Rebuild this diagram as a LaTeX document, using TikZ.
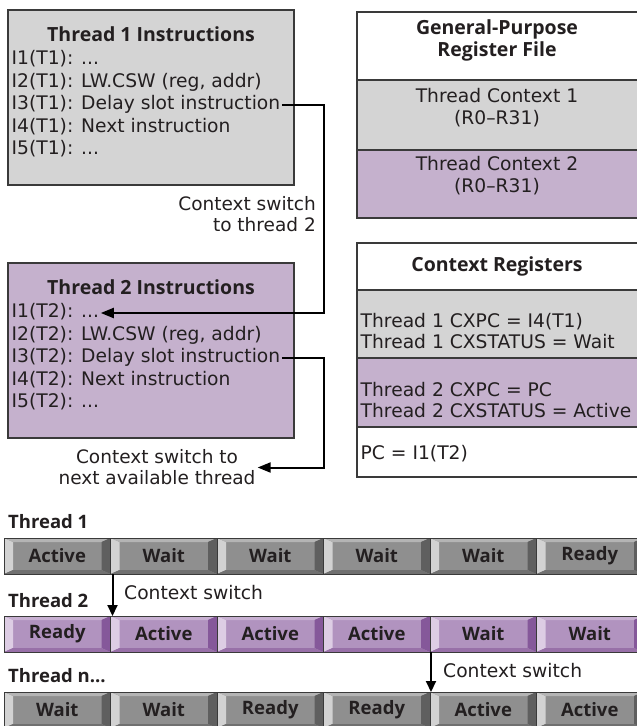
\documentclass[tikz,border=0pt]{standalone}
\usepackage{fontspec}
\setmainfont{DejaVu Sans}
\newfontfamily\bfam{Open Sans}
\usetikzlibrary{arrows.meta,calc}
\definecolor{boxgray}{HTML}{D4D4D4}
\definecolor{boxpurp}{HTML}{C5B1CD}
\definecolor{edge}{HTML}{3A3A3A}
\definecolor{ink}{HTML}{231F20}
\definecolor{gface}{HTML}{8F8F8F}
\definecolor{glft}{HTML}{D2D2D2}
\definecolor{gtop}{HTML}{B4B4B4}
\definecolor{grgt}{HTML}{5F5F5F}
\definecolor{gbot}{HTML}{707070}
\definecolor{pface}{HTML}{B193BF}
\definecolor{plft}{HTML}{DDCDE4}
\definecolor{ptop}{HTML}{C8B0D2}
\definecolor{prgt}{HTML}{85589A}
\definecolor{pbot}{HTML}{9870A8}
\newcommand\bevcell[5]{%
  \node[cellbox,fill=#4face] (#1) at (#2,#3) {};
  \fill[#4lft] (#1.north west) -- (#1.south west) -- ($(#1.south west)+(9,-4)$) -- ($(#1.north west)+(9,4)$) -- cycle;
  \fill[#4top] (#1.north west) -- (#1.north east) -- ($(#1.north east)+(-9,4)$) -- ($(#1.north west)+(9,4)$) -- cycle;
  \fill[#4rgt] (#1.north east) -- (#1.south east) -- ($(#1.south east)+(-9,-4)$) -- ($(#1.north east)+(-9,4)$) -- cycle;
  \fill[#4bot] (#1.south west) -- (#1.south east) -- ($(#1.south east)+(-9,-4)$) -- ($(#1.south west)+(9,-4)$) -- cycle;
  \node[celltext] (#1t) at (#1.center) {#5};
  \draw[edge,line width=1pt] (#1.north west) rectangle (#1.south east);
}
\begin{document}
\begin{tikzpicture}[x=1pt,y=-1pt,font=\fontsize{18.7}{21.5}\selectfont,text=ink,
  box/.style={draw=edge,line width=1.2pt,anchor=north west,inner sep=0pt,outer sep=0pt},
  ln/.style={anchor=west,inner sep=1.5pt,text height=14pt,text depth=4.5pt},
  ctr/.style={inner sep=1pt,text height=14pt,text depth=4.5pt},
  ttl/.style={ctr,font=\fontsize{19.5}{22}\bfam\bfseries},
  conn/.style={draw=black,line width=2pt},
  tip/.style={-{Triangle[length=13pt,width=10pt]}},
  cellbox/.style={anchor=north west,minimum width=106.5pt,minimum height=36pt,inner sep=0pt,outer sep=0pt},
  celltext/.style={font=\fontsize{18.5}{20}\bfam\bfseries,text=ink,inner sep=0pt},
  rowlbl/.style={anchor=west,inner sep=0pt,font=\fontsize{18.5}{20}\bfam\bfseries}]
\useasboundingbox (0,0) rectangle (637,726);
\fill[white] (0,0) rectangle (637,726);

% Thread 1 instructions
\node[box,fill=boxgray,minimum width=286pt,minimum height=175pt] (t1) at (8,10) {};
\node[ttl] (t1h) at (151,37) {Thread 1 Instructions};
\node[ln] (t1l1) at (10,60) {I1(T1): ...};
\node[ln] (t1l2) at (10,82.5) {I2(T1): LW.CSW (reg, addr)};
\node[ln] (t1l3) at (10,105) {I3(T1): Delay slot instruction};
\node[ln] (t1l4) at (10,127.5) {I4(T1): Next instruction};
\node[ln] (t1l5) at (10,150) {I5(T1): ...};

% Thread 2 instructions
\node[box,fill=boxpurp,minimum width=286pt,minimum height=175pt] (t2) at (8,263) {};
\node[ttl] (t2h) at (151,290) {Thread 2 Instructions};
\node[ln] (t2l1) at (10,313) {I1(T2): ...};
\node[ln] (t2l2) at (10,335.5) {I2(T2): LW.CSW (reg, addr)};
\node[ln] (t2l3) at (10,358) {I3(T2): Delay slot instruction};
\node[ln] (t2l4) at (10,380.5) {I4(T2): Next instruction};
\node[ln] (t2l5) at (10,403) {I5(T2): ...};

% switch labels
\node[anchor=east,align=right,inner sep=1pt,font=\fontsize{18.5}{21}\selectfont] (cs1) at (317,214) {Context switch\\to thread 2};
\node[align=center,inner sep=2pt,font=\fontsize{18.5}{21}\selectfont] (cs2) at (157,467.5) {Context switch to\\next available thread};

% connectors
\coordinate (b1) at (324,200);
\coordinate (b2) at (324,420);
\draw[conn,tip] (t1l3.east) -| (b1) |- (t2l1.east);
\draw[conn,tip] (t2l3.east) -| (b2) |- (cs2.east);

% General-purpose register file
\node[box,fill=white,minimum width=284pt,minimum height=68pt] (gh) at (357,12) {};
\node[box,fill=boxgray,minimum width=284pt,minimum height=70pt] (g1) at (357,80) {};
\node[box,fill=boxpurp,minimum width=284pt,minimum height=68pt] (g2) at (357,150) {};
\node[ttl] (ght1) at (497,30) {General-Purpose};
\node[ttl] (ght2) at (497,52) {Register File};
\node[ctr] (g1a) at (497,98) {Thread Context 1};
\node[ctr] (g1b) at (497,120) {(R0–R31)};
\node[ctr] (g2a) at (497,166) {Thread Context 2};
\node[ctr] (g2b) at (497,188) {(R0–R31)};

% Context registers
\node[box,fill=white,minimum width=284pt,minimum height=47pt] (ch) at (357,243) {};
\node[box,fill=boxgray,minimum width=284pt,minimum height=68pt] (c1) at (357,290) {};
\node[box,fill=boxpurp,minimum width=284pt,minimum height=69pt] (c2) at (357,358) {};
\node[box,fill=white,minimum width=284pt,minimum height=50pt] (c3) at (357,427) {};
\node[ttl] (cht) at (497,267) {Context Registers};
\node[ln] (c1a) at (359,323) {Thread 1 CXPC = I4(T1)};
\node[ln] (c1b) at (359,344) {Thread 1 CXSTATUS = Wait};
\node[ln] (c2a) at (359,392) {Thread 2 CXPC = PC};
\node[ln] (c2b) at (359,413) {Thread 2 CXSTATUS = Active};
\node[ln] (c3a) at (359,455) {PC = I1(T2)};

% timeline rows
\node[rowlbl] (lr1) at (8,522) {Thread 1};
\bevcell{r1c1}{4}{538}{g}{Active}
\bevcell{r1c2}{110.5}{538}{g}{Wait}
\bevcell{r1c3}{217}{538}{g}{Wait}
\bevcell{r1c4}{323.5}{538}{g}{Wait}
\bevcell{r1c5}{430}{538}{g}{Wait}
\bevcell{r1c6}{536.5}{538}{g}{Ready}

\node[rowlbl] (lr2) at (8,601) {Thread 2};
\bevcell{r2c1}{4}{616}{p}{Ready}
\bevcell{r2c2}{110.5}{616}{p}{Active}
\bevcell{r2c3}{217}{616}{p}{Active}
\bevcell{r2c4}{323.5}{616}{p}{Active}
\bevcell{r2c5}{430}{616}{p}{Wait}
\bevcell{r2c6}{536.5}{616}{p}{Wait}

\node[rowlbl] (lr3) at (8,676) {Thread n...};
\bevcell{r3c1}{4}{692}{g}{Wait}
\bevcell{r3c2}{110.5}{692}{g}{Wait}
\bevcell{r3c3}{217}{692}{g}{Ready}
\bevcell{r3c4}{323.5}{692}{g}{Ready}
\bevcell{r3c5}{430}{692}{g}{Active}
\bevcell{r3c6}{536.5}{692}{g}{Active}

% context-switch arrows in timeline
\draw[line width=2pt,-{Triangle[length=11pt,width=10pt]}] ($(r1c1.south east)+(2,0)$) -- ($(r2c1.north east)+(2,0)$);
\node[anchor=west,inner sep=0pt] (sw1) at (124,593) {Context switch};
\draw[line width=2pt,-{Triangle[length=11pt,width=10pt]}] ($(r2c5.south west)+(1,0)$) -- ($(r3c5.north west)+(1,0)$);
\node[anchor=west,inner sep=0pt] (sw2) at (443,671) {Context switch};
\end{tikzpicture}
\end{document}
